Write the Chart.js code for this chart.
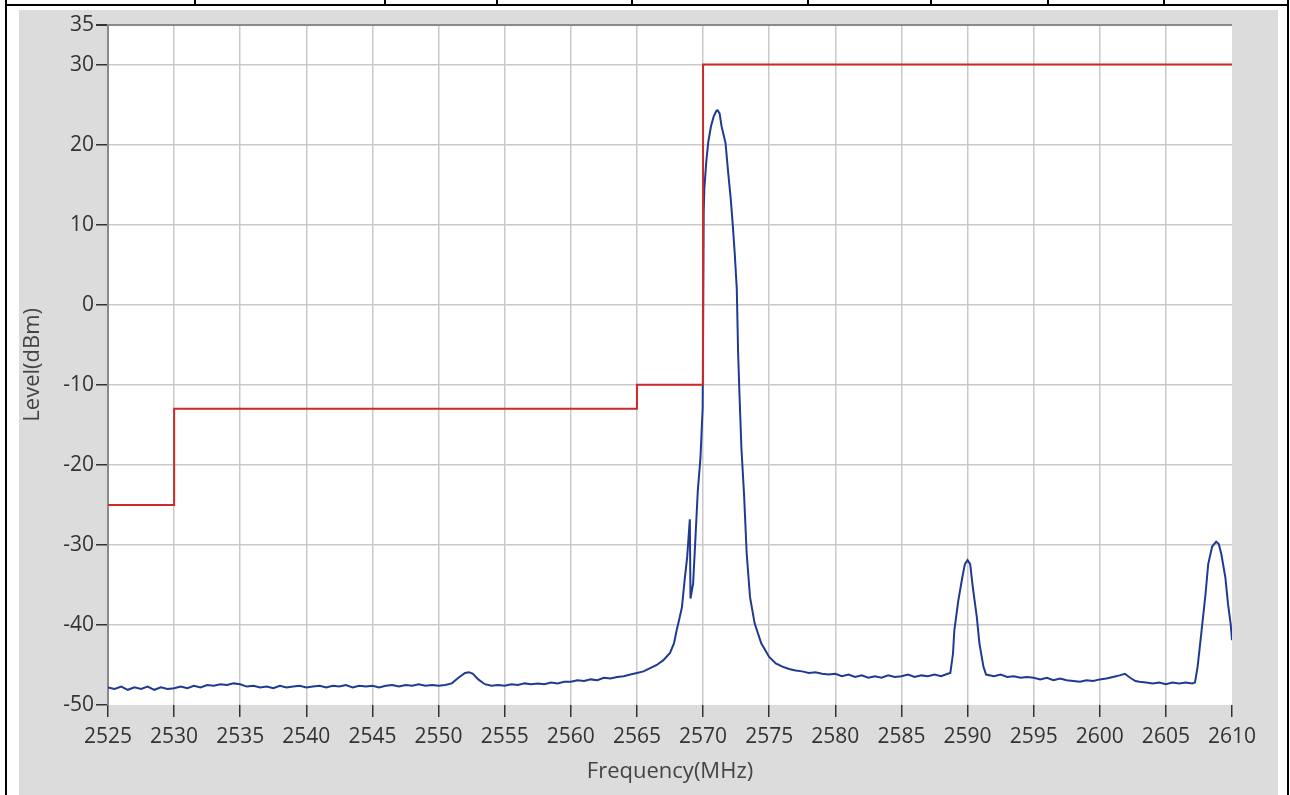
<!DOCTYPE html>
<html>
<head>
<meta charset="utf-8">
<script src="https://cdn.jsdelivr.net/npm/chart.js@4.4.1/dist/chart.umd.min.js"></script>
<style>
  body { margin: 0; background: #fff; width: 1290px; height: 795px; overflow: hidden; position: relative; }
  .ln { position: absolute; background: #000; }
  #panel { position: absolute; left: 19px; top: 10px; width: 1259px; height: 785px; background: #dcdcdc; }
</style>
</head>
<body>
<!-- table frame around the picture -->
<div class="ln" style="left:5px;top:4px;width:1284px;height:2px"></div>
<div class="ln" style="left:5px;top:0;width:2px;height:795px"></div>
<div class="ln" style="left:1287px;top:0;width:2px;height:795px"></div>
<div class="ln" style="left:194px;top:0;width:2px;height:5px"></div>
<div class="ln" style="left:384px;top:0;width:2px;height:5px"></div>
<div class="ln" style="left:496px;top:0;width:2px;height:5px"></div>
<div class="ln" style="left:631px;top:0;width:2px;height:5px"></div>
<div class="ln" style="left:807px;top:0;width:2px;height:5px"></div>
<div class="ln" style="left:930px;top:0;width:2px;height:5px"></div>
<div class="ln" style="left:1047px;top:0;width:2px;height:5px"></div>
<div class="ln" style="left:1163px;top:0;width:2px;height:5px"></div>
<div id="panel"><canvas id="spectrum" width="1259" height="785"></canvas></div>
<script>
//data
const freqs = [
  2525, 2525.5, 2526, 2526.5, 2527, 2527.5, 2528, 2528.5, 2529, 2529.5,
  2530, 2530.5, 2531, 2531.5, 2532, 2532.5, 2533, 2533.5, 2534, 2534.5,
  2535, 2535.5, 2536, 2536.5, 2537, 2537.5, 2538, 2538.5, 2539, 2539.5,
  2540, 2540.5, 2541, 2541.5, 2542, 2542.5, 2543, 2543.5, 2544, 2544.5,
  2545, 2545.5, 2546, 2546.5, 2547, 2547.5, 2548, 2548.5, 2549, 2549.5,
  2550, 2550.5, 2551, 2551.5, 2552, 2552.3, 2552.6, 2553, 2553.5, 2554,
  2554.5, 2555, 2555.5, 2556, 2556.5, 2557, 2557.5, 2558, 2558.5, 2559,
  2559.5, 2560, 2560.5, 2561, 2561.5, 2562, 2562.5, 2563, 2563.5, 2564,
  2564.5, 2565, 2565.5, 2566, 2566.5, 2567, 2567.5, 2567.8, 2568, 2568.2,
  2568.4, 2568.6, 2568.8, 2568.9, 2569, 2569.05, 2569.25, 2569.45, 2569.6, 2569.8,
  2569.97, 2570.05, 2570.1, 2570.25, 2570.4, 2570.6, 2570.8, 2571, 2571.1, 2571.25,
  2571.4, 2571.7, 2571.9, 2572.1, 2572.25, 2572.4, 2572.55, 2572.65, 2572.75, 2572.9,
  2573.1, 2573.3, 2573.55, 2573.9, 2574.4, 2575, 2575.5, 2576, 2576.5, 2577,
  2577.5, 2578, 2578.5, 2579, 2579.5, 2580, 2580.5, 2581, 2581.5, 2582,
  2582.5, 2583, 2583.5, 2584, 2584.5, 2585, 2585.5, 2586, 2586.5, 2587,
  2587.5, 2588, 2588.5, 2588.7, 2588.9, 2589, 2589.3, 2589.6, 2589.8, 2590,
  2590.2, 2590.4, 2590.7, 2590.9, 2591.2, 2591.4, 2592, 2592.5, 2593, 2593.5,
  2594, 2594.5, 2595, 2595.5, 2596, 2596.5, 2597, 2597.5, 2598, 2598.5,
  2599, 2599.5, 2600, 2600.5, 2601, 2601.5, 2601.9, 2602.3, 2602.7, 2603,
  2603.5, 2604, 2604.5, 2605, 2605.5, 2606, 2606.5, 2607, 2607.2, 2607.4,
  2607.7, 2608, 2608.2, 2608.5, 2608.8, 2609, 2609.2, 2609.5, 2609.7, 2609.9,
  2610
];
const levels = [
  -47.8, -48.0, -47.7, -48.1, -47.8, -48.0, -47.7, -48.1, -47.8, -48.0,
  -47.9, -47.7, -47.9, -47.6, -47.8, -47.5, -47.6, -47.4, -47.5, -47.3,
  -47.4, -47.7, -47.6, -47.8, -47.7, -47.9, -47.6, -47.8, -47.7, -47.6,
  -47.8, -47.7, -47.6, -47.8, -47.6, -47.7, -47.5, -47.8, -47.6, -47.7,
  -47.6, -47.8, -47.6, -47.5, -47.7, -47.5, -47.6, -47.4, -47.6, -47.5,
  -47.6, -47.5, -47.3, -46.6, -46.0, -45.9, -46.1, -46.8, -47.4, -47.6,
  -47.5, -47.6, -47.4, -47.5, -47.3, -47.4, -47.3, -47.4, -47.2, -47.3,
  -47.1, -47.1, -46.9, -47.0, -46.8, -46.9, -46.6, -46.7, -46.5, -46.4,
  -46.2, -46.0, -45.8, -45.4, -45.0, -44.4, -43.5, -42.3, -40.7, -39.3,
  -37.8, -34.5, -31.5, -29.1, -26.8, -36.7, -34.8, -28.3, -23.3, -19.2,
  -12.9, 11.7, 14.6, 18.0, 20.4, 22.3, 23.5, 24.2, 24.3, 23.9,
  22.3, 20.2, 16.5, 13.1, 9.9, 6.3, 2.0, -5.9, -11.0, -17.9,
  -23.7, -31.1, -36.5, -39.8, -42.3, -44.0, -44.8, -45.2, -45.5, -45.7,
  -45.8, -46.0, -45.9, -46.1, -46.2, -46.1, -46.4, -46.2, -46.5, -46.3,
  -46.6, -46.4, -46.6, -46.3, -46.5, -46.4, -46.2, -46.5, -46.3, -46.4,
  -46.2, -46.4, -46.1, -46.0, -43.6, -40.7, -37.0, -34.1, -32.4, -31.9,
  -32.4, -35.3, -39.0, -42.3, -45.2, -46.2, -46.4, -46.2, -46.5, -46.4,
  -46.6, -46.5, -46.6, -46.8, -46.6, -46.9, -46.7, -46.9, -47.0, -47.1,
  -46.9, -47.0, -46.8, -46.7, -46.5, -46.3, -46.1, -46.6, -47.0, -47.1,
  -47.2, -47.3, -47.2, -47.4, -47.2, -47.3, -47.2, -47.3, -47.2, -45.2,
  -40.7, -36.1, -32.4, -30.2, -29.6, -29.9, -31.2, -34.1, -37.4, -39.9,
  -41.9
];
// limit mask corners
const limitFreqs = [2525, 2530, 2530, 2565, 2565, 2570, 2570, 2610];
const limitLevels = [-25, -25, -13, -13, -10, -10, 30, 30];

const xTicks = [2525, 2530, 2535, 2540, 2545, 2550, 2555, 2560, 2565, 2570,
                2575, 2580, 2585, 2590, 2595, 2600, 2605, 2610];
const yTicks = [-50, -40, -30, -20, -10, 0, 10, 20, 30, 35];

const tickFont = { family: "'Open Sans', 'Noto Sans', sans-serif", size: 21 };
const titleFont = { family: "'Open Sans', 'Noto Sans', sans-serif", size: 22 };

// white plot area on the grey panel
const plotBg = {
  id: 'plotBg',
  beforeDraw(chart) {
    const { ctx, chartArea: a } = chart;
    ctx.save();
    ctx.fillStyle = '#ffffff';
    ctx.fillRect(a.left, a.top, a.right - a.left, a.bottom - a.top);
    ctx.restore();
  }
};

const config = {
  type: 'line',
  data: {
    datasets: [
      {
        label: 'Limit',
        data: limitFreqs.map((f, i) => ({ x: f, y: limitLevels[i] })),
        borderColor: '#cc2a2a',
        borderWidth: 2,
        pointRadius: 0,
        fill: false
      },
      {
        label: 'Level',
        data: freqs.map((f, i) => ({ x: f, y: levels[i] })),
        borderColor: '#1f3a92',
        borderWidth: 2,
        pointRadius: 0,
        tension: 0,
        fill: false
      }
    ]
  },
  options: {
    responsive: false,
    animation: false,
    layout: { padding: { left: 0, top: 11, right: 46, bottom: 0 } },
    plugins: {
      legend: { display: false },
      tooltip: { enabled: false }
    },
    scales: {
      x: {
        type: 'linear',
        min: 2525,
        max: 2610,
        afterBuildTicks: (scale) => { scale.ticks = xTicks.map(v => ({ value: v })); },
        afterFit: (scale) => { scale.height = 90; },
        grid: {
          color: (c) => (c.tick && c.tick.value === 2610) ? 'rgba(0,0,0,0)' : '#c9c9c9',
          lineWidth: 1.5,
          tickLength: 12,
          tickColor: '#333'
        },
        border: { display: false },
        ticks: {
          color: '#333', font: tickFont, padding: 7, maxRotation: 0, autoSkip: false,
          callback: (v) => String(v)
        },
        title: {
          display: true,
          text: 'Frequency(MHz)',
          color: '#444',
          font: titleFont,
          padding: { top: 4, bottom: 10 }
        }
      },
      y: {
        type: 'linear',
        min: -50,
        max: 35,
        afterBuildTicks: (scale) => { scale.ticks = yTicks.map(v => ({ value: v })); },
        afterFit: (scale) => { scale.width = 89; },
        grid: {
          color: (c) => {
            if (!c.tick) return '#c9c9c9';
            if (c.tick.value === 35) return '#8a8a8a';
            if (c.tick.value === -50) return 'rgba(0,0,0,0)';
            return '#c9c9c9';
          },
          lineWidth: (c) => (c.tick && c.tick.value === 35) ? 2 : 1.5,
          tickLength: 12,
          tickColor: '#333'
        },
        border: { display: true, color: '#8a8a8a', width: 2 },
        ticks: {
          color: '#333', font: tickFont, padding: 2, autoSkip: false,
          callback: (v) => String(v)
        },
        title: {
          display: true,
          text: 'Level(dBm)',
          color: '#444',
          font: titleFont,
          padding: { top: 1, bottom: 4 }
        }
      }
    }
  },
  plugins: [plotBg]
};

const spectrumChart = new Chart(document.getElementById('spectrum'), config);
</script>
</body>
</html>
